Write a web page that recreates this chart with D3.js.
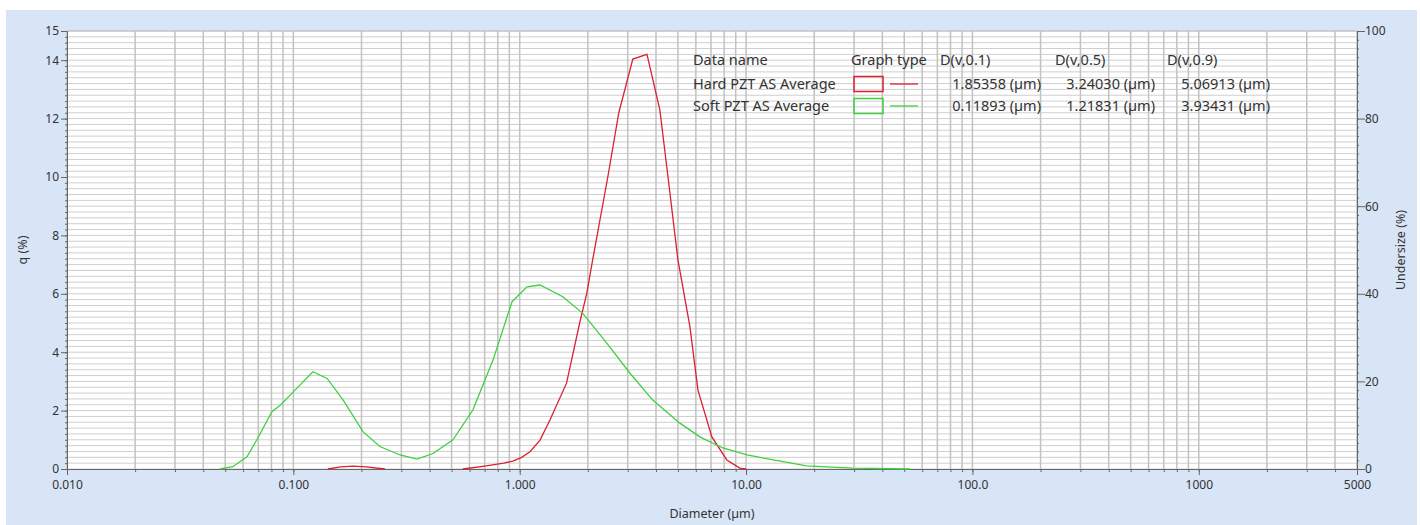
<!DOCTYPE html>
<html lang="en">
<head>
<meta charset="utf-8">
<title>PSD</title>
<script src="https://d3js.org/d3.v7.min.js"></script>
<style>
  body { margin: 0; background: #fff; }
  text { font-family: "Noto Sans", "Open Sans", sans-serif; fill: #333; }
  .axis path, .axis line { stroke: #666; }
  .axis text { font-size: 12px; fill: #333; }
</style>
</head>
<body>
<svg id="chart" width="1420" height="525"></svg>
<script>
  // Hard PZT (null = gap, curve not drawn)
  const hardX = [0.142, 0.162, 0.183, 0.21, 0.254, 0.4, 0.561, 0.7, 0.85, 0.933, 1.02, 1.11, 1.23, 1.36, 1.61, 1.84, 1.98, 2.10, 2.45, 2.74, 3.16, 3.65, 4.16, 4.52, 5.0, 5.65, 6.13, 7.06, 8.22, 9.39, 10.0];
  const hardQ = [0, 0.07, 0.1, 0.07, 0, null, 0, 0.1, 0.2, 0.27, 0.4, 0.59, 0.99, 1.68, 2.94, 5.0, 6.03, 7.16, 10.0, 12.2, 14.04, 14.2, 12.3, 10.0, 7.16, 4.87, 2.7, 1.1, 0.31, 0.03, 0];
  // Soft PZT
  const softX = [0.0474, 0.054, 0.0624, 0.069, 0.0804, 0.088, 0.0987, 0.122, 0.141, 0.166, 0.203, 0.241, 0.296, 0.352, 0.414, 0.507, 0.621, 0.762, 0.925, 1.077, 1.23, 1.55, 1.90, 2.43, 3.07, 3.87, 5.1, 6.25, 7.9, 10.1, 13.2, 18.5, 29.6, 53];
  const softQ = [0, 0.08, 0.42, 1.0, 1.96, 2.2, 2.6, 3.33, 3.1, 2.36, 1.28, 0.77, 0.48, 0.34, 0.53, 1.0, 2.02, 3.73, 5.73, 6.24, 6.3, 5.9, 5.33, 4.3, 3.28, 2.36, 1.57, 1.1, 0.72, 0.48, 0.31, 0.11, 0.03, 0];

  const xMajor = [0.01, 0.1, 1, 10, 100, 1000, 5000];
  const xMajorLabels = ["0.010", "0.100", "1.000", "10.00", "100.0", "1000", "5000"];
  const qTicks = [0, 2, 4, 6, 8, 10, 12, 14, 15];
  const underTicks = [0, 20, 40, 60, 80, 100];

  const legendHeads = ["Data name", "Graph type", "D(v,0.1)", "D(v,0.5)", "D(v,0.9)"];
  const seriesNames = ["Hard PZT AS Average", "Soft PZT AS Average"];
  const seriesColors = ["#dc2030", "#3fd03f"];
  const dv10 = ["1.85358 (µm)", "0.11893 (µm)"];
  const dv50 = ["3.24030 (µm)", "1.21831 (µm)"];
  const dv90 = ["5.06913 (µm)", "3.93431 (µm)"];

  const svg = d3.select('#chart');
  const pLeft = 67, pRight = 1357, pTop = 31, pBottom = 469;

  svg.append('rect').attr('x', 6).attr('y', 10).attr('width', 1411).attr('height', 515)
    .attr('fill', '#d8e5f7');
  svg.append('rect').attr('x', pLeft).attr('y', pTop).attr('width', pRight - pLeft).attr('height', pBottom - pTop)
    .attr('fill', '#fff');

  const x = d3.scaleLog().domain([0.01, 5000]).range([pLeft, pRight]);
  const y = d3.scaleLinear().domain([0, 15]).range([pBottom, pTop]);
  const yR = d3.scaleLinear().domain([0, 100]).range([pBottom, pTop]);

  // grid
  svg.append('g').selectAll('line')
    .data(y.ticks(75))
    .join('line')
    .attr('x1', pLeft).attr('x2', pRight)
    .attr('y1', function(d) { return y(d); }).attr('y2', function(d) { return y(d); })
    .attr('stroke', '#cfcfcf').attr('stroke-width', 1);
  svg.append('g').selectAll('line')
    .data(x.ticks())
    .join('line')
    .attr('x1', function(d) { return x(d); }).attr('x2', function(d) { return x(d); })
    .attr('y1', pTop).attr('y2', pBottom)
    .attr('stroke', '#c2c2c2').attr('stroke-width', 1.5);
  svg.append('line').attr('x1', pLeft).attr('x2', pRight).attr('y1', pTop).attr('y2', pTop)
    .attr('stroke', '#bbb');

  // axes
  svg.append('g').attr('class', 'axis').attr('transform', 'translate(0,' + pBottom + ')')
    .call(d3.axisBottom(x).tickValues(x.ticks()).tickSize(3).tickFormat(''))
    .call(function(g) { g.select('.domain').remove(); });
  svg.append('g').attr('class', 'axis').attr('transform', 'translate(0,' + pBottom + ')')
    .call(d3.axisBottom(x).tickValues(xMajor).tickSize(6).tickPadding(5).tickSizeOuter(0)
      .tickFormat(function(d, i) { return xMajorLabels[i]; }));

  svg.append('g').attr('class', 'axis').attr('transform', 'translate(' + pLeft + ',0)')
    .call(d3.axisLeft(y).tickValues(y.ticks(75)).tickSize(2).tickFormat(''));
  svg.append('g').attr('class', 'axis').attr('transform', 'translate(' + pLeft + ',0)')
    .call(d3.axisLeft(y).tickValues(qTicks).tickSize(6).tickPadding(2).tickSizeOuter(0))
    .call(function(g) { g.select('.domain').remove(); });

  svg.append('g').attr('class', 'axis').attr('transform', 'translate(' + pRight + ',0)')
    .call(d3.axisRight(yR).tickValues(yR.ticks(50)).tickSize(2).tickFormat(''));
  svg.append('g').attr('class', 'axis').attr('transform', 'translate(' + pRight + ',0)')
    .call(d3.axisRight(yR).tickValues(underTicks).tickSize(8).tickPadding(0).tickSizeOuter(0))
    .call(function(g) { g.select('.domain').remove(); });

  // axis titles
  svg.append('text').attr('transform', 'translate(27,250) rotate(-90)')
    .attr('text-anchor', 'middle').attr('font-size', 12.5).text('q (%)');
  svg.append('text').attr('transform', 'translate(1405,250) rotate(-90)')
    .attr('text-anchor', 'middle').attr('font-size', 12.5).text('Undersize (%)');
  svg.append('text').attr('x', 712).attr('y', 518)
    .attr('text-anchor', 'middle').attr('font-size', 12.5).text('Diameter (µm)');

  // curves
  const line = d3.line()
    .defined(function(d) { return d[1] !== null; })
    .x(function(d) { return x(d[0]); })
    .y(function(d) { return y(d[1]); });
  const series = [d3.zip(hardX, hardQ), d3.zip(softX, softQ)];
  svg.append('g').selectAll('path')
    .data(series)
    .join('path')
    .attr('d', line)
    .attr('fill', 'none')
    .attr('stroke', function(d, i) { return seriesColors[i]; })
    .attr('stroke-width', 1.3);

  // legend
  const lg = svg.append('g').attr('font-size', 14.5);
  const headX = [693, 851, 940, 1055, 1167];
  lg.selectAll('text.head').data(legendHeads).join('text')
    .attr('class', 'head')
    .attr('x', function(d, i) { return headX[i]; }).attr('y', 65)
    .text(function(d) { return d; });
  seriesNames.forEach(function(name, i) {
    const cy = 84 + i * 22;
    lg.append('text').attr('x', 693).attr('y', cy + 5).text(name);
    lg.append('rect').attr('x', 854).attr('y', cy - 7.5).attr('width', 29).attr('height', 15)
      .attr('fill', 'none').attr('stroke', seriesColors[i]).attr('stroke-width', 1.5);
    lg.append('line').attr('x1', 890).attr('x2', 918).attr('y1', cy).attr('y2', cy)
      .attr('stroke', seriesColors[i]).attr('stroke-width', 1.3);
    lg.append('text').attr('x', 1041).attr('y', cy + 5).attr('text-anchor', 'end').text(dv10[i]);
    lg.append('text').attr('x', 1155).attr('y', cy + 5).attr('text-anchor', 'end').text(dv50[i]);
    lg.append('text').attr('x', 1270).attr('y', cy + 5).attr('text-anchor', 'end').text(dv90[i]);
  });
</script>
</body>
</html>
